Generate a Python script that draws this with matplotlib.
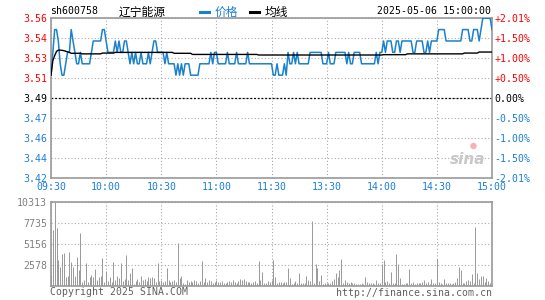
import matplotlib
matplotlib.use('Agg')
import matplotlib.pyplot as plt
from matplotlib.lines import Line2D

plt.rcParams['font.family'] = ['DejaVu Sans Mono', 'Noto Sans CJK SC']

# ---- data (one value per minute, 09:30 .. 15:00) ----
prev_close = 3.49
pct_limit = 2.01

price = [
    3.51, 3.53, 3.55, 3.55, 3.54, 3.52, 3.51, 3.51, 3.52, 3.53,
    3.53, 3.55, 3.54, 3.53, 3.52, 3.52, 3.53, 3.52, 3.52, 3.52,
    3.52, 3.52, 3.53, 3.54, 3.54, 3.54, 3.54, 3.54, 3.55, 3.55,
    3.54, 3.53, 3.53, 3.53, 3.53, 3.54, 3.53, 3.54, 3.53, 3.53,
    3.54, 3.54, 3.53, 3.52, 3.53, 3.52, 3.53, 3.52, 3.52, 3.53,
    3.52, 3.52, 3.52, 3.53, 3.52, 3.53, 3.54, 3.54, 3.53, 3.53,
    3.53, 3.53, 3.52, 3.53, 3.52, 3.52, 3.52, 3.52, 3.51, 3.52,
    3.51, 3.52, 3.51, 3.52, 3.52, 3.52, 3.51, 3.51, 3.51, 3.51,
    3.51, 3.52, 3.52, 3.52, 3.52, 3.52, 3.52, 3.53, 3.52, 3.53,
    3.53, 3.52, 3.52, 3.52, 3.52, 3.52, 3.53, 3.52, 3.52, 3.52,
    3.52, 3.53, 3.52, 3.52, 3.52, 3.52, 3.52, 3.53, 3.52, 3.52,
    3.52, 3.52, 3.52, 3.52, 3.52, 3.52, 3.52, 3.52, 3.52, 3.52,
    3.52, 3.51, 3.51, 3.52, 3.51, 3.51, 3.51, 3.52, 3.51, 3.53,
    3.52, 3.52, 3.53, 3.52, 3.53, 3.52, 3.52, 3.52, 3.52, 3.52,
    3.52, 3.53, 3.53, 3.53, 3.53, 3.53, 3.53, 3.53, 3.52, 3.52,
    3.52, 3.53, 3.52, 3.52, 3.52, 3.53, 3.53, 3.53, 3.53, 3.53,
    3.53, 3.52, 3.53, 3.52, 3.52, 3.53, 3.53, 3.53, 3.53, 3.52,
    3.52, 3.52, 3.52, 3.52, 3.52, 3.52, 3.52, 3.53, 3.52, 3.53,
    3.53, 3.54, 3.53, 3.54, 3.54, 3.54, 3.53, 3.53, 3.54, 3.54,
    3.53, 3.54, 3.54, 3.54, 3.54, 3.54, 3.54, 3.53, 3.53, 3.54,
    3.54, 3.54, 3.54, 3.53, 3.53, 3.54, 3.53, 3.54, 3.54, 3.54,
    3.54, 3.55, 3.55, 3.55, 3.55, 3.54, 3.54, 3.54, 3.54, 3.54,
    3.54, 3.54, 3.54, 3.54, 3.55, 3.55, 3.55, 3.55, 3.54, 3.54,
    3.55, 3.55, 3.55, 3.54, 3.55, 3.56, 3.56, 3.56, 3.56, 3.56,
    3.55,
]

avg_price = [
    3.5100, 3.5227, 3.5271, 3.5309, 3.5320, 3.5320, 3.5318, 3.5315, 3.5310, 3.5305,
    3.5300, 3.5292, 3.5292, 3.5292, 3.5292, 3.5292, 3.5292, 3.5287, 3.5287, 3.5287,
    3.5287, 3.5287, 3.5287, 3.5287, 3.5287, 3.5287, 3.5287, 3.5287, 3.5294, 3.5294,
    3.5294, 3.5294, 3.5294, 3.5294, 3.5294, 3.5300, 3.5300, 3.5300, 3.5300, 3.5300,
    3.5300, 3.5300, 3.5300, 3.5300, 3.5300, 3.5300, 3.5300, 3.5300, 3.5300, 3.5300,
    3.5300, 3.5300, 3.5300, 3.5300, 3.5300, 3.5300, 3.5300, 3.5300, 3.5300, 3.5300,
    3.5300, 3.5300, 3.5300, 3.5300, 3.5300, 3.5300, 3.5300, 3.5292, 3.5292, 3.5292,
    3.5292, 3.5292, 3.5292, 3.5292, 3.5292, 3.5292, 3.5292, 3.5282, 3.5282, 3.5282,
    3.5282, 3.5282, 3.5282, 3.5282, 3.5282, 3.5282, 3.5282, 3.5282, 3.5282, 3.5282,
    3.5282, 3.5282, 3.5282, 3.5282, 3.5282, 3.5282, 3.5282, 3.5282, 3.5282, 3.5282,
    3.5282, 3.5282, 3.5282, 3.5282, 3.5282, 3.5282, 3.5282, 3.5282, 3.5282, 3.5282,
    3.5282, 3.5282, 3.5282, 3.5277, 3.5277, 3.5277, 3.5277, 3.5277, 3.5277, 3.5277,
    3.5277, 3.5277, 3.5277, 3.5277, 3.5277, 3.5277, 3.5277, 3.5277, 3.5277, 3.5277,
    3.5277, 3.5277, 3.5277, 3.5277, 3.5277, 3.5277, 3.5277, 3.5277, 3.5277, 3.5277,
    3.5277, 3.5277, 3.5277, 3.5277, 3.5277, 3.5277, 3.5277, 3.5277, 3.5277, 3.5277,
    3.5277, 3.5277, 3.5277, 3.5277, 3.5277, 3.5277, 3.5277, 3.5277, 3.5277, 3.5277,
    3.5277, 3.5277, 3.5277, 3.5277, 3.5277, 3.5277, 3.5277, 3.5277, 3.5277, 3.5277,
    3.5277, 3.5277, 3.5277, 3.5277, 3.5277, 3.5277, 3.5277, 3.5277, 3.5277, 3.5277,
    3.5277, 3.5280, 3.5280, 3.5280, 3.5280, 3.5280, 3.5280, 3.5280, 3.5280, 3.5280,
    3.5280, 3.5280, 3.5280, 3.5280, 3.5287, 3.5287, 3.5287, 3.5287, 3.5287, 3.5287,
    3.5287, 3.5287, 3.5287, 3.5287, 3.5287, 3.5287, 3.5287, 3.5287, 3.5287, 3.5287,
    3.5287, 3.5287, 3.5287, 3.5287, 3.5287, 3.5287, 3.5287, 3.5287, 3.5287, 3.5287,
    3.5287, 3.5287, 3.5287, 3.5287, 3.5287, 3.5294, 3.5294, 3.5294, 3.5294, 3.5294,
    3.5294, 3.5294, 3.5294, 3.5303, 3.5303, 3.5303, 3.5303, 3.5303, 3.5303, 3.5303,
    3.5303,
]

volume = [
    1270, 6875, 10313, 7080, 3151, 2292, 3888, 4011, 1105, 1228,
    4133, 2905, 2292, 1187, 3520, 1964, 6507, 409, 737, 2783,
    491, 1023, 1310, 1023, 2046, 696, 1023, 1187, 3438, 491,
    1841, 614, 1023, 410, 2946, 696, 1187, 900, 2782, 614,
    778, 3724, 696, 1514, 2210, 205, 614, 778, 491, 1187,
    696, 778, 614, 1023, 900, 1023, 900, 491, 2823, 614,
    696, 410, 614, 2210, 696, 491, 614, 696, 491, 5279,
    900, 1187, 286, 205, 696, 491, 614, 491, 696, 614,
    368, 614, 3069, 491, 940, 410, 696, 614, 286, 450,
    696, 491, 410, 614, 286, 368, 491, 614, 410, 696,
    491, 286, 614, 820, 696, 820, 614, 491, 410, 368,
    491, 614, 368, 3069, 696, 1719, 368, 286, 614, 491,
    696, 3151, 1023, 368, 491, 410, 368, 491, 491, 2128,
    900, 205, 286, 614, 286, 1514, 286, 368, 286, 1187,
    696, 614, 7940, 286, 2660, 2128, 614, 1310, 205, 368,
    286, 368, 286, 614, 778, 1514, 1023, 1923, 3274, 368,
    696, 491, 368, 491, 368, 286, 205, 205, 205, 286,
    205, 1023, 491, 368, 286, 368, 205, 696, 368, 286,
    2660, 3151, 491, 614, 286, 1719, 286, 286, 3888, 2660,
    900, 205, 205, 286, 368, 2046, 286, 491, 205, 368,
    286, 368, 491, 696, 368, 491, 205, 778, 368, 286,
    3274, 491, 286, 205, 778, 368, 286, 368, 205, 368,
    491, 900, 2292, 1964, 286, 368, 614, 696, 614, 1432,
    286, 7244, 1514, 818, 1146, 1187, 491, 900, 614, 368,
    491,
]

price_labels = ['3.42', '3.44', '3.46', '3.47', '3.49', '3.51', '3.53', '3.54', '3.56']
pct_labels = ['-2.01%', '-1.50%', '-1.00%', '-0.50%', '0.00%',
              '+0.50%', '+1.00%', '+1.50%', '+2.01%']
time_labels = ['09:30', '10:00', '10:30', '11:00', '11:30',
               '13:30', '14:00', '14:30', '15:00']
vol_ticks = [2578, 5156, 7735, 10313]

BLUE = '#1a82cc'
TXTBLUE = '#1a7fd4'
RED = '#ff0000'
GRAY = '#999999'
W, H = 545, 300

lo = prev_close * (1 - pct_limit / 100)
hi = prev_close * (1 + pct_limit / 100)
nt = len(price_labels)
yt = [lo + (hi - lo) * i / (nt - 1) for i in range(nt)]
lab_colors = [TXTBLUE] * 4 + ['black'] + [RED] * 4
minutes = list(range(len(price)))
xt = list(range(0, 241, 30))

fig = plt.figure(figsize=(W / 100, H / 100), dpi=100)
ax = fig.add_axes([51 / W, 1 - 178 / H, 441 / W, 160 / H])
vax = fig.add_axes([51 / W, 1 - 285.7 / H, 441 / W, 84 / H])

dots = (0, (1, 2))
for a in (ax, vax):
    for s in a.spines.values():
        s.set_color(GRAY)
        s.set_linewidth(1.2)
    a.set_xlim(0, 240)
    a.set_xticks(xt)
    a.grid(True, color='#aaaaaa', linestyle=dots, linewidth=0.8)
    a.set_axisbelow(True)
    a.tick_params(length=0, labelsize=7.1)

# price panel
ax.plot(minutes, price, color=BLUE, lw=1.1, zorder=3)
ax.plot(minutes, avg_price, color='black', lw=1.0, zorder=4)
ax.axhline(prev_close, color='black', lw=0.9, linestyle=(0, (1.5, 1.5)), zorder=2)
ax.set_ylim(lo, hi)
ax.set_yticks(yt)
ax.set_yticklabels(price_labels)
for t, c in zip(ax.get_yticklabels(), lab_colors):
    t.set_color(c)
ax.tick_params(axis='y', pad=3)
ax.set_xticklabels(time_labels, color=TXTBLUE)
ax.tick_params(axis='x', pad=3)

rax = ax.twinx()
rax.set_ylim(lo, hi)
rax.set_yticks(yt)
rax.set_yticklabels(pct_labels)
for t, c in zip(rax.get_yticklabels(), lab_colors):
    t.set_color(c)
rax.tick_params(length=0, labelsize=7.1, pad=2)
for s in rax.spines.values():
    s.set_visible(False)

# sina watermark
ax.text(0.945, 0.07, 'sina', transform=ax.transAxes, fontsize=11, style='italic',
        fontweight='bold', color='#c8c8c8', ha='center', va='bottom',
        family='DejaVu Sans', zorder=1)
ax.scatter([0.958], [0.2], transform=ax.transAxes, s=22, color='#f4b4b4',
           zorder=1, edgecolors='none')

# volume panel
vax.vlines(minutes, 0, volume, color='#999999', lw=0.7)
vax.set_ylim(0, vol_ticks[-1])
vax.set_yticks(vol_ticks)
vax.set_yticklabels([str(v) for v in vol_ticks], color='#808080')
vax.tick_params(axis='y', pad=3)
vax.set_xticklabels([])

# header and footer texts
def px(x, y):
    return x / W, 1 - y / H

fig.text(*px(50, 11.5), 'sh600758', fontsize=7.1, va='center', ha='left')
fig.text(*px(119, 12), '辽宁能源', fontsize=8.5, va='center', ha='left',
         family=['Noto Sans CJK SC'])
fig.add_artist(Line2D([200 / W, 209 / W], [1 - 11.5 / H] * 2, color=BLUE, lw=2.2))
fig.text(*px(215, 12), '价格', fontsize=8.5, va='center', ha='left', color=TXTBLUE,
         family=['Noto Sans CJK SC'])
fig.add_artist(Line2D([250 / W, 259 / W], [1 - 11.5 / H] * 2, color='black', lw=2.2))
fig.text(*px(265, 12), '均线', fontsize=8.5, va='center', ha='left',
         family=['Noto Sans CJK SC'])
fig.text(*px(491, 11.5), '2025-05-06 15:00:00', fontsize=7.1, va='center', ha='right')
fig.text(*px(50, 292), 'Copyright 2025 SINA.COM', fontsize=7.1, va='center',
         ha='left', color='#606060')
fig.text(*px(492, 293), 'http://finance.sina.com.cn', fontsize=7.1, va='center',
         ha='right', color='#606060')

fig.savefig('out.png', dpi=100)
